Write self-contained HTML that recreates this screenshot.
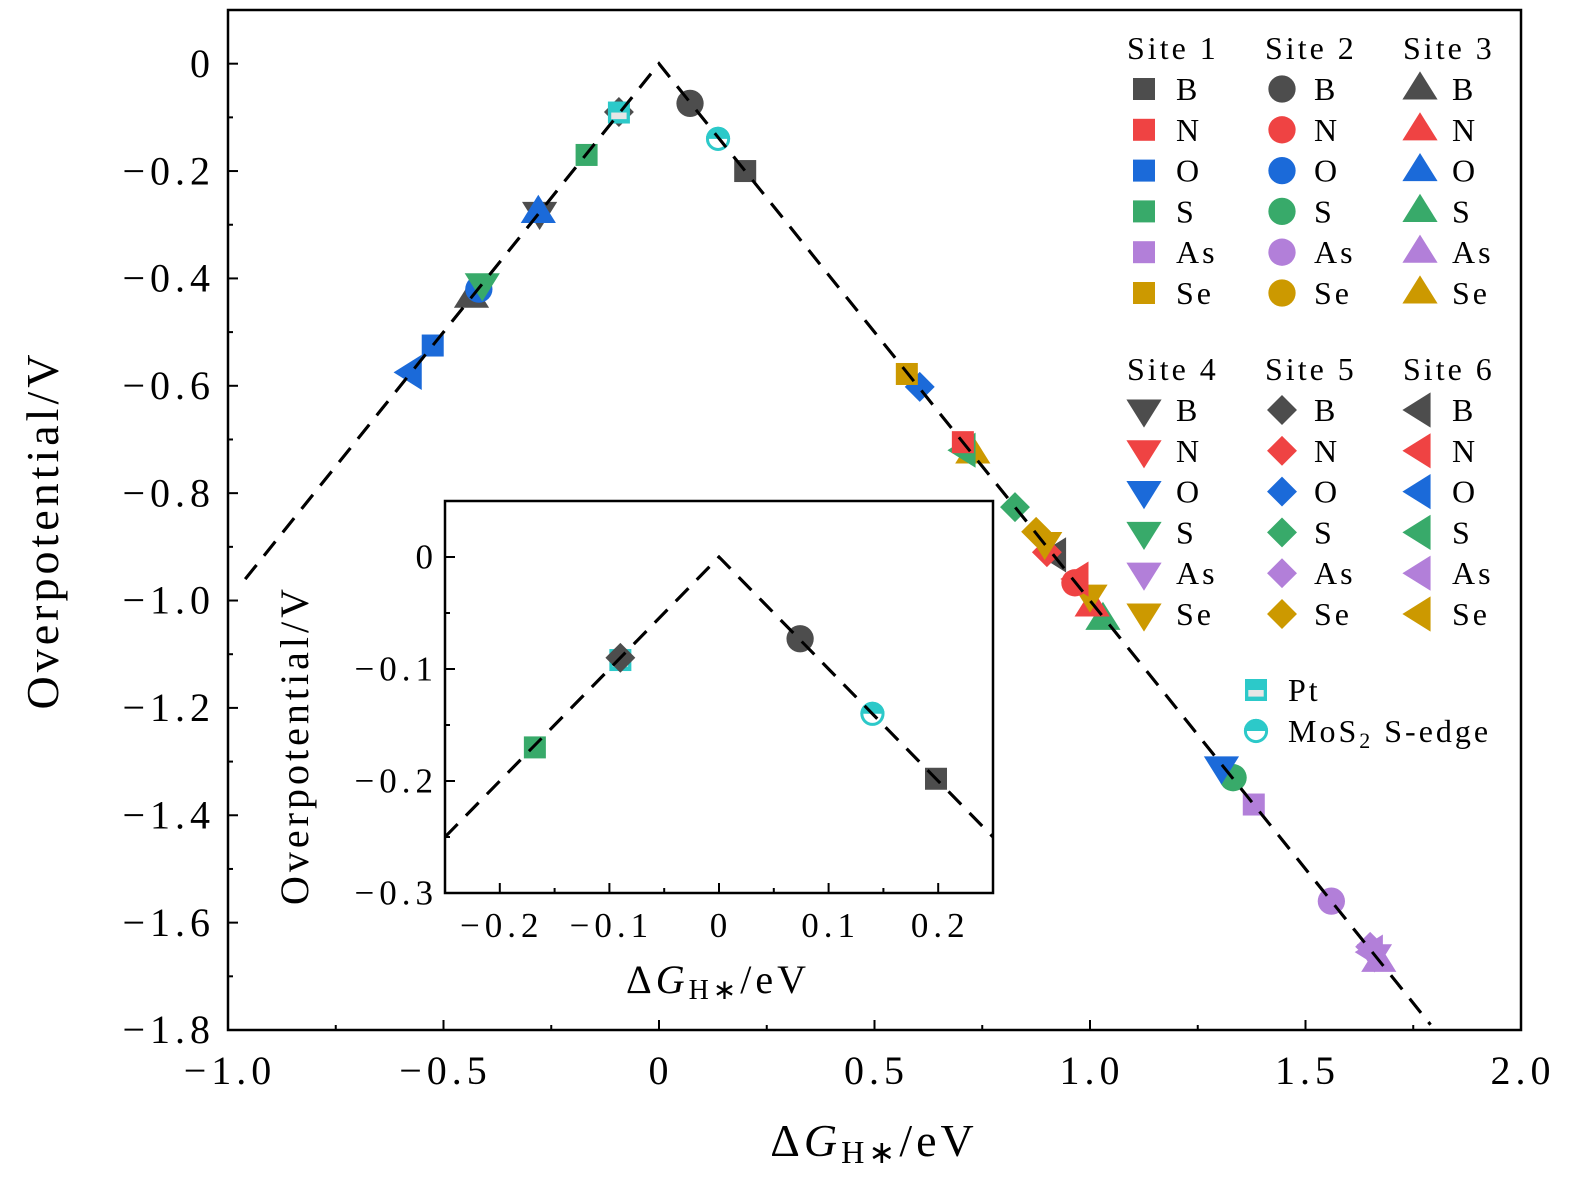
<!DOCTYPE html>
<html><head><meta charset="utf-8"><style>
html,body{margin:0;padding:0;background:#fff;}
svg{display:block;font-family:"Liberation Serif",serif;}
.tk{letter-spacing:5px;}
.lg{letter-spacing:3px;}
.tt{letter-spacing:4px;}
</style></head><body>
<svg id="chart" width="1575" height="1191" viewBox="0 0 1575 1191" xmlns="http://www.w3.org/2000/svg">
<g id="main"></g>
<g id="inset"></g>
<g id="legend"></g>
</svg>
<script>
// ---- data ----
const mainSites = [1,5,2,2,1,1,3,4,4,2,3,1,6,1,5,1,6,3,5,5,4,5,6,2,6,4,3,3,4,2,1,2,5,6,4,3];
const mainElems = ["Pt","B","B","MoS2","B","S","O","B","S","O","B","O","O","Se","O","N","S","Se","S","Se","Se","N","B","N","N","Se","N","S","O","S","As","As","As","As","As","As"];
const mainX = [-0.093,-0.093,0.072,0.137,0.2,-0.168,-0.28,-0.277,-0.41,-0.418,-0.435,-0.525,-0.575,0.575,0.605,0.705,0.71,0.728,0.826,0.875,0.895,0.9,0.92,0.965,0.972,1.0,1.005,1.03,1.305,1.332,1.38,1.56,1.65,1.655,1.66,1.67];
const mainY = [-0.091,-0.09,-0.074,-0.14,-0.2,-0.17,-0.277,-0.277,-0.41,-0.42,-0.435,-0.525,-0.575,-0.578,-0.602,-0.705,-0.72,-0.725,-0.826,-0.872,-0.892,-0.91,-0.915,-0.967,-0.96,-0.99,-1.01,-1.035,-1.31,-1.33,-1.38,-1.56,-1.645,-1.655,-1.66,-1.672];
const insetSites = [5,1,1,2,2,1];
const insetElems = ["B","Pt","S","B","MoS2","B"];
const insetX = [-0.09,-0.09,-0.168,0.074,0.14,0.198];
const insetY = [-0.09,-0.092,-0.17,-0.073,-0.14,-0.198];
const lineX = [-0.96,0,1.79];
const insetLineX = [-0.25,0,0.25];
const mainXTicks = [-1.0,-0.5,0,0.5,1.0,1.5,2.0];
const mainXLabels = ["\u22121.0","\u22120.5","0","0.5","1.0","1.5","2.0"];
const mainYTicks = [0,-0.2,-0.4,-0.6,-0.8,-1.0,-1.2,-1.4,-1.6,-1.8];
const mainYLabels = ["0","\u22120.2","\u22120.4","\u22120.6","\u22120.8","\u22121.0","\u22121.2","\u22121.4","\u22121.6","\u22121.8"];
const insetXTicks = [-0.2,-0.1,0,0.1,0.2];
const insetXLabels = ["\u22120.2","\u22120.1","0","0.1","0.2"];
const insetYTicks = [0,-0.1,-0.2,-0.3];
const insetYLabels = ["0","\u22120.1","\u22120.2","\u22120.3"];
const legendElems = ["B","N","O","S","As","Se"];

const colors = {B:"#4d4d4d",N:"#ef4343",O:"#1b6ad9",S:"#38aa6a",As:"#b27fd9",Se:"#cc9900",Pt:"#2cc9c9",MoS2:"#2cc9c9"};
const NS="http://www.w3.org/2000/svg";
function mk(tag,attrs,parent){const e=document.createElementNS(NS,tag);for(const k in attrs)e.setAttribute(k,attrs[k]);parent.appendChild(e);return e;}

function marker(parent,site,elem,cx,cy,s){
  const c=colors[elem];const g=mk("g",{},parent);
  
  
  if(elem==="Pt"){
    mk("rect",{x:cx-s*0.5,y:cy-s*0.5,width:s,height:s,fill:c},g);
    mk("rect",{x:cx-s*0.35,y:cy,width:s*0.7,height:s*0.3,fill:"#e6e6e6"},g);
    return;
  }
  if(elem==="MoS2"){
    const r=s*0.55;
    mk("path",{d:`M${cx-r},${cy} A${r},${r} 0 0 1 ${cx+r},${cy} Z`,fill:c},g);
    mk("circle",{cx:cx,cy:cy,r:r-1.5,fill:"none",stroke:c,"stroke-width":3},g);
    return;
  }
  let h=s*0.8;
  if(site===1) mk("rect",{x:cx-s*0.5,y:cy-s*0.5,width:s,height:s,fill:c},g);
  else if(site===2) mk("circle",{cx:cx,cy:cy,r:s*0.62,fill:c},g);
  else if(site===3) mk("polygon",{points:`${cx},${cy-h} ${cx+h},${cy+h*0.6} ${cx-h},${cy+h*0.6}`,fill:c},g);
  else if(site===4) mk("polygon",{points:`${cx},${cy+h} ${cx+h},${cy-h*0.6} ${cx-h},${cy-h*0.6}`,fill:c},g);
  else if(site===5) mk("polygon",{points:`${cx},${cy-h*0.85} ${cx+h*0.85},${cy} ${cx},${cy+h*0.85} ${cx-h*0.85},${cy}`,fill:c},g);
  else mk("polygon",{points:`${cx-h},${cy} ${cx+h*0.6},${cy-h} ${cx+h*0.6},${cy+h}`,fill:c},g);
}

function dgLabel(parent,x,y,size,name){
  const t=mk("text",{x:x,y:y,"font-size":size,"text-anchor":"middle","class":"tt"},parent);
  
  
  t.innerHTML=`\u0394<tspan font-style="italic">G</tspan><tspan font-size="${size*0.7}" dy="${size*0.15}">H\u2217</tspan><tspan dy="${-size*0.15}">/eV</tspan>`;
}

function drawPlot(g,o){
  const sx=v=>o.x0+(v-o.xmin)/(o.xmax-o.xmin)*(o.x1-o.x0);
  const sy=v=>o.y0+(o.ymax-v)/(o.ymax-o.ymin)*(o.y1-o.y0);
  const cp="clip"+o.id;
  const defs=mk("defs",{},g);const cl=mk("clipPath",{id:cp},defs);
  mk("rect",{x:o.x0,y:o.y0,width:o.x1-o.x0,height:o.y1-o.y0},cl);
  mk("rect",{x:o.x0,y:o.y0,width:o.x1-o.x0,height:o.y1-o.y0,fill:"#fff"},g);
  const tg=mk("g",{stroke:"#000","stroke-width":2},g);
  
  
  o.xt.forEach((v,i)=>{
    const x=sx(v);
    mk("line",{x1:x,y1:o.y1,x2:x,y2:o.y1-10},tg);
    if(i<o.xt.length-1){const xm=sx((v+o.xt[i+1])/2);mk("line",{x1:xm,y1:o.y1,x2:xm,y2:o.y1-5},tg);}
    const t=mk("text",{x:x+2,y:o.y1+o.xlOff,"font-size":o.fs,"text-anchor":"middle","class":"tk"},g);
    
    
    t.textContent=o.xl[i];
  });
  o.yt.forEach((v,i)=>{
    const y=sy(v);
    mk("line",{x1:o.x0,y1:y,x2:o.x0+10,y2:y},tg);
    const ym=sy(v+(o.yt[1]-o.yt[0])/2);
    if(ym>o.y0&&ym<o.y1) mk("line",{x1:o.x0,y1:ym,x2:o.x0+5,y2:ym},tg);
    if(i===0){const y2=sy(v-(o.yt[1]-o.yt[0])/2);if(y2>o.y0)mk("line",{x1:o.x0,y1:y2,x2:o.x0+5,y2:y2},tg);}
    const t=mk("text",{x:o.x0-o.ylOff+5,y:y+o.fs*0.33,"font-size":o.fs,"text-anchor":"end","class":"tk"},g);
    
    
    t.textContent=o.yl[i];
  });
  const pts=o.lx.map(v=>`${sx(v)},${sy(-Math.abs(v))}`).join(" ");
  const pl=mk("polyline",{points:pts,fill:"none",stroke:"#000","stroke-width":3,"stroke-dasharray":"18,12","clip-path":`url(#${cp})`},g);
  
  
  const pg=mk("g",{"clip-path":`url(#${cp})`},g);
  
  
  for(let i=o.px.length-1;i>=0;i--) marker(pg,o.ps[i],o.pe[i],sx(o.px[i]),sy(o.py[i]),o.ms);
  mk("polyline",{points:pts,fill:"none",stroke:"#000","stroke-width":3,"stroke-dasharray":"18,12","clip-path":`url(#${cp})`},g);
  const fr=mk("rect",{x:o.x0,y:o.y0,width:o.x1-o.x0,height:o.y1-o.y0,fill:"none",stroke:"#000","stroke-width":2.5},g);
  
  
}

const main=document.getElementById("main");
drawPlot(main,{id:"main",x0:228,x1:1521,y0:10,y1:1030,xmin:-1,xmax:2,ymin:-1.8,ymax:0.1,
  xt:mainXTicks,xl:mainXLabels,yt:mainYTicks,yl:mainYLabels,fs:40,xlOff:54,ylOff:18,
  lx:lineX,px:mainX,py:mainY,ps:mainSites,pe:mainElems,ms:22});
dgLabel(main,874,1156,46,"x-axis-title");
const yt=mk("text",{x:0,y:0,"font-size":46,"text-anchor":"middle","class":"tt",transform:"translate(58,530) rotate(-90)"},main);
yt.textContent="Overpotential/V";

const inset=document.getElementById("inset");
drawPlot(inset,{id:"inset",x0:445,x1:993,y0:501,y1:893,xmin:-0.25,xmax:0.25,ymin:-0.3,ymax:0.05,
  xt:insetXTicks,xl:insetXLabels,yt:insetYTicks,yl:insetYLabels,fs:35,xlOff:44,ylOff:12,
  lx:insetLineX,px:insetX,py:insetY,ps:insetSites,pe:insetElems,ms:22});
dgLabel(inset,718,993,40,"inset-x-axis-title");
const iyt=mk("text",{x:0,y:0,"font-size":40,"text-anchor":"middle","class":"tt",transform:"translate(308,745) rotate(-90)"},inset);
iyt.textContent="Overpotential/V";

const lg=document.getElementById("legend");
const colX=[1144,1282,1420];
[[1,2,3,49],[4,5,6,370]].forEach(block=>{
  for(let c=0;c<3;c++){
    const site=block[c];
    const h=mk("text",{x:colX[c]-17,y:block[3]+10,"font-size":32,"class":"lg"},lg);
    h.textContent="Site "+site;
    legendElems.forEach((e,r)=>{
      const y=block[3]+40+r*40.8;
      marker(lg,site,e,colX[c],y,22);
      const t=mk("text",{x:colX[c]+32,y:y+11,"font-size":32,"class":"lg"},lg);
      t.textContent=e;
    });
  }
});
marker(lg,0,"Pt",1256,690,22);
const pt=mk("text",{x:1288,y:701,"font-size":32,"class":"lg"},lg);
pt.textContent="Pt";
marker(lg,0,"MoS2",1256,731,22);
const mo=mk("text",{x:1288,y:742,"font-size":32,"class":"lg"},lg);

mo.innerHTML='MoS<tspan font-size="22" dy="6">2</tspan><tspan dy="-6"> S-edge</tspan>';
</script>
</body></html>
